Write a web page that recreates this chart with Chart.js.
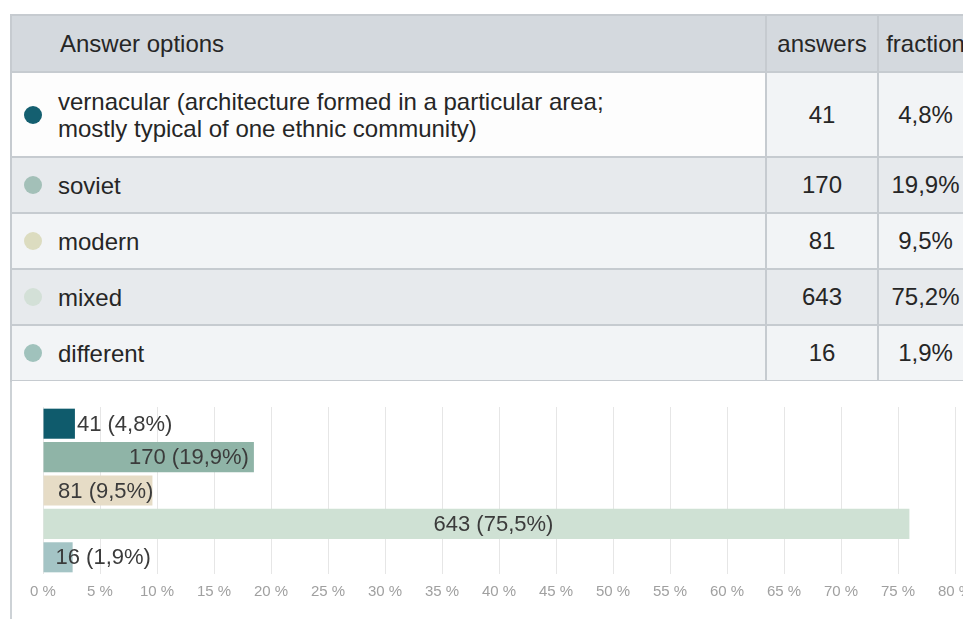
<!DOCTYPE html>
<html>
<head>
<meta charset="utf-8">
<script src="https://cdn.jsdelivr.net/npm/chart.js@4.4.0/dist/chart.umd.min.js"></script>
<style>
  html, body { margin: 0; padding: 0; background: #fff; width: 963px; height: 619px; overflow: hidden; }
  body { position: relative; font-family: "Liberation Sans", Arial, sans-serif; color: #262626; }
  #frame { position: absolute; left: 10px; top: 14px; width: 1000px; height: 620px; border-left: 2px solid #cdd2d6; }
  table { position: absolute; left: 10px; top: 14px; width: 962px; border-collapse: collapse; table-layout: fixed; }
  th, td { border: 2px solid #c6cbd0; font-size: 24px; font-weight: normal; padding: 0; }
  th { background: #d4d9de; height: 55px; }
  th.opt { text-align: left; padding-left: 48px; }
  td { height: 54px; text-align: center; background: #f2f4f6; }
  td.opt { text-align: left; padding-left: 46px; position: relative; line-height: 27px; }
  tr.alt td { background: #e7eaed; }
  tr.first td.opt { background: #fdfdfd; }
  tr.first td { height: 83px; }
  .dot { position: absolute; left: 12px; top: 50%; width: 18px; height: 18px; margin-top: -9px; border-radius: 50%; }
  #chartBox { position: absolute; left: 12px; top: 381px; width: 990px; height: 238px; background: #fff; }
</style>
</head>
<body>
<div id="frame"></div>
<table>
  <colgroup><col style="width:755px"><col style="width:112px"><col style="width:95px"></colgroup>
  <thead><tr><th class="opt">Answer options</th><th>answers</th><th>fraction</th></tr></thead>
  <tbody id="rows"></tbody>
</table>
<div id="chartBox"><canvas id="myChart" width="990" height="238"></canvas></div>

<script>
// answer options as shown in the table
const options = [
  'vernacular (architecture formed in a particular area;<br>mostly typical of one ethnic community)',
  'soviet',
  'modern',
  'mixed',
  'different'
];
const answers = [41, 170, 81, 643, 16];
const tableShares = ['4,8%', '19,9%', '9,5%', '75,2%', '1,9%'];
const chartShares = ['4,8%', '19,9%', '9,5%', '75,5%', '1,9%'];
// bar lengths (in %) as drawn in the picture
const barPercent = [2.8, 18.5, 9.6, 76.0, 2.6];
const xTicks = [0, 5, 10, 15, 20, 25, 30, 35, 40, 45, 50, 55, 60, 65, 70, 75, 80];

const barColors = ['#0f5b6c', '#8fb4a7', '#e6dcc6', '#cfe1d4', '#a4c4c5'];
const dotColors = ['#145f70', '#a3c0b8', '#dcdcc0', '#d3e0d7', '#a0c2bc'];

let buildTable = () => {
  let body = document.getElementById('rows');
  options.forEach((opt, i) => {
    let cls = i === 0 ? 'first' : (i % 2 === 1 ? 'alt' : '');
    body.innerHTML += `
      <tr class="${cls}">
        <td class="opt"><span class="dot" style="background:${dotColors[i]}"></span>${opt}</td>
        <td>${answers[i]}</td>
        <td>${tableShares[i]}</td>
      </tr>`;
  });
};

// where each value label sits relative to its bar
const labelPlacement = [
  { align: 'after', dx: 2 },
  { align: 'end', dx: -5 },
  { align: 'end', dx: 1 },
  { align: 'center', dx: 17 },
  { align: 'start', dx: 12 }
];

const valueLabels = {
  id: 'valueLabels',
  afterDatasetsDraw(chart) {
    const ctx = chart.ctx;
    const meta = chart.getDatasetMeta(0);
    ctx.save();
    ctx.font = '22px "Liberation Sans", Arial, sans-serif';
    ctx.fillStyle = '#3b3b3b';
    ctx.textBaseline = 'middle';
    meta.data.forEach((bar, i) => {
      const text = `${answers[i]} (${chartShares[i]})`;
      const p = labelPlacement[i];
      let x;
      if (p.align === 'after') { ctx.textAlign = 'left'; x = bar.x + p.dx; }
      else if (p.align === 'end') { ctx.textAlign = 'right'; x = bar.x + p.dx; }
      else if (p.align === 'start') { ctx.textAlign = 'left'; x = bar.base + p.dx; }
      else { ctx.textAlign = 'center'; x = (bar.x + bar.base) / 2 + p.dx; }
      ctx.fillText(text, x, bar.y + 1);
    });
    ctx.restore();
  }
};

let plot = () => {
  const ctx = document.getElementById('myChart');
  new Chart(ctx, {
    type: 'bar',
    data: {
      labels: options.map(o => o.split('<br>')[0]),
      datasets: [{
        data: barPercent,
        backgroundColor: barColors,
        borderWidth: 0,
        barPercentage: 0.9,
        categoryPercentage: 1.0
      }]
    },
    options: {
      indexAxis: 'y',
      responsive: false,
      animation: false,
      layout: { padding: { left: 31, right: 47, top: 26, bottom: 9 } },
      plugins: { legend: { display: false }, tooltip: { enabled: false } },
      scales: {
        y: { display: false },
        x: {
          min: 0,
          max: 80,
          afterBuildTicks: (axis) => { axis.ticks = xTicks.map(v => ({ value: v })); },
          border: { display: false },
          grid: { color: '#e6e6e6', lineWidth: 1, drawTicks: false },
          ticks: {
            padding: 9,
            color: '#a0a0a0',
            font: { family: '"Liberation Sans", Arial, sans-serif', size: 15 },
            maxRotation: 0,
            autoSkip: false,
            callback: (v) => v + ' %'
          }
        }
      }
    },
    plugins: [valueLabels]
  });
};

buildTable();
plot();
</script>
</body>
</html>
